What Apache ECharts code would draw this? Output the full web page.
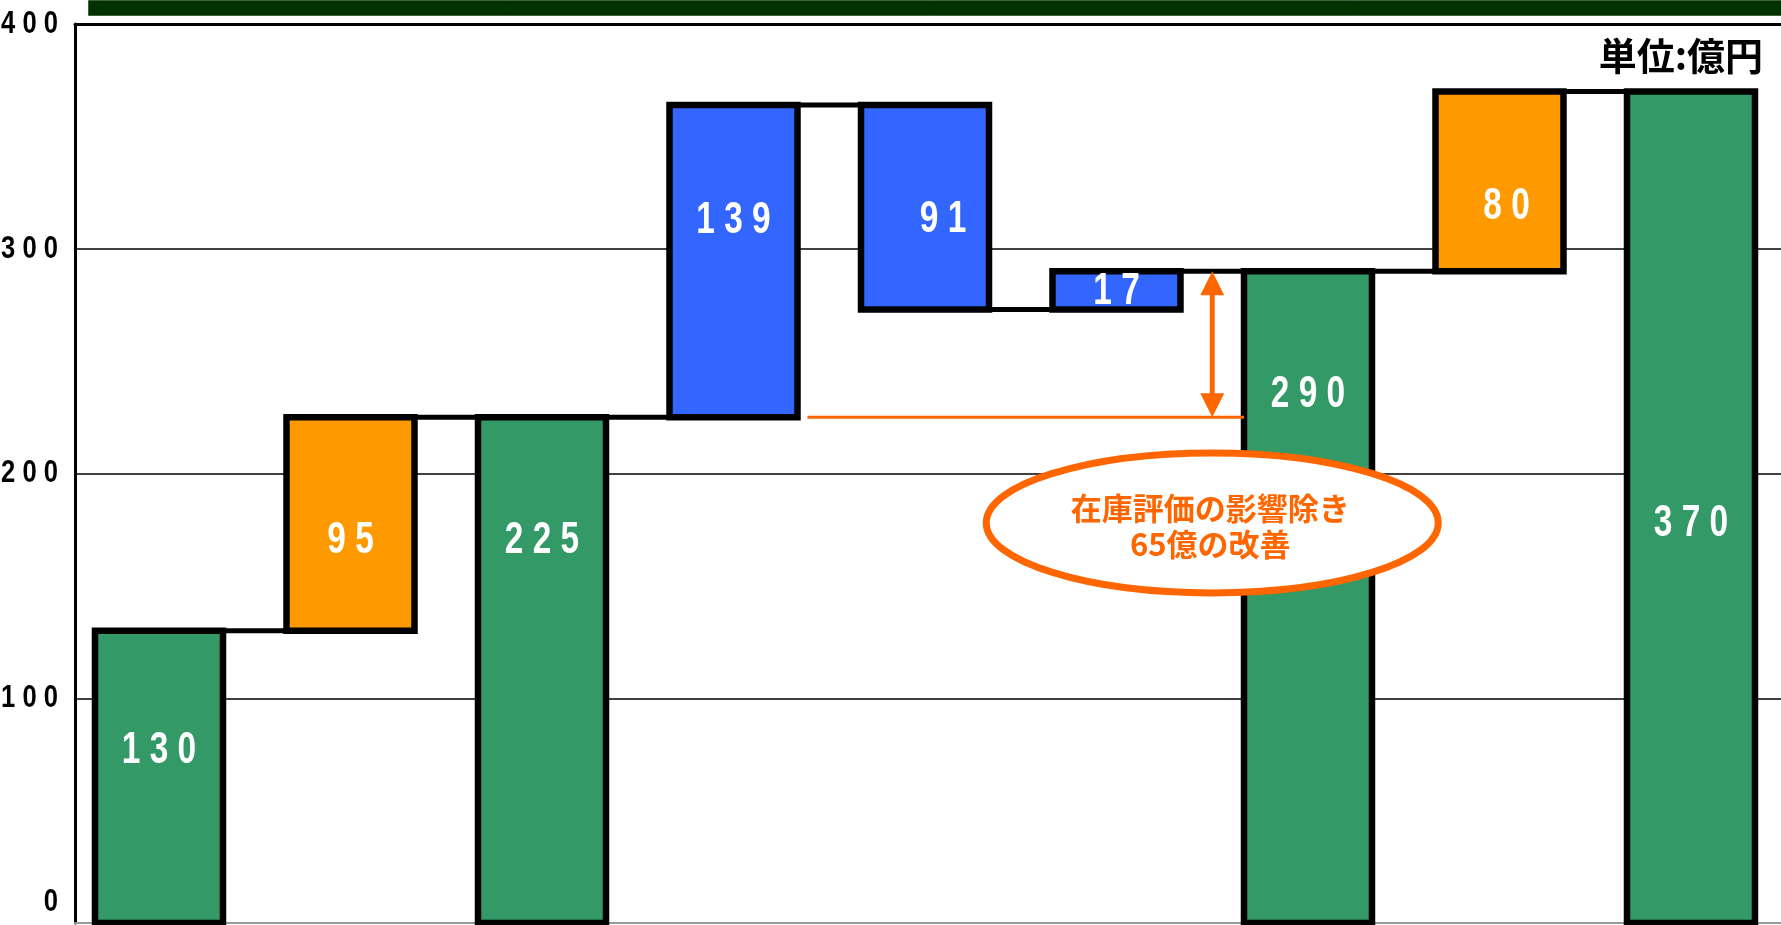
<!DOCTYPE html>
<html>
<head>
<meta charset="utf-8">
<script src="https://cdn.jsdelivr.net/npm/echarts@6/dist/echarts.min.js"></script>
<style>
  html, body { margin: 0; padding: 0; background: #fff; }
  #chart { width: 1781px; height: 925px; }
</style>
</head>
<body>
<div id="chart"></div>
<script>
// waterfall steps (億円): totals reset the level, others add to it
var categories = ['1', '2', '3', '4', '5', '6', '7', '8', '9'];
var values = [130, 95, 225, 139, -91, 17, 290, 80, 370];
var kinds = ['total', 'orange', 'total', 'blue', 'blue', 'blue', 'total', 'orange', 'total'];
var yTicks = [0, 100, 200, 300, 400];
var unitText = '単位:億円';
var noteLines = ['在庫評価の影響除き', '65億の改善'];
var noteFrom = 225;
var noteTo = 290;

var colors = { total: '#339966', orange: '#FF9900', blue: '#3366FF' };
var NUM_FONT = '"Liberation Sans", Arial, sans-serif';
var CJK_FONT = '"Noto Sans CJK JP", sans-serif';
var X_MIN = -0.4386, X_MAX = 8.47;
var BAR_W = 128 / 191.5;
// where the value label sits inside each bar (fraction from top) and small x nudges
var labelFrac = [0.41, 0.58, 0.245, 0.37, 0.56, 0.55, 0.19, 0.64, 0.52];
var labelDx = [0, 0, 0, 0, 18, 0, 0, 7, 0];

function spaced(n) {
    return String(n).split('').join(' ');
}

var rows = [];
var level = 0;
values.forEach(function (v, i) {
    var lo, hi;
    if (kinds[i] === 'total') {
        lo = 0; hi = v; level = v;
    } else {
        lo = Math.min(level, level + v);
        hi = Math.max(level, level + v);
        level += v;
    }
    rows.push({ name: categories[i], value: [i, lo, hi, level, Math.abs(v)] });
});

function renderBar(params, api) {
    var i = api.value(0);
    var top = api.coord([i, api.value(2)]);
    var bot = api.coord([i, api.value(1)]);
    var w = api.size([BAR_W, 0])[0];
    var children = [];
    if (i < values.length - 1) {
        var a = api.coord([i, api.value(3)]);
        var b = api.coord([i + 1, api.value(3)]);
        children.push({
            type: 'line',
            shape: { x1: a[0] + w / 2, y1: a[1], x2: b[0] - w / 2, y2: b[1] },
            style: { stroke: '#000', lineWidth: 5 }
        });
    }
    children.push({
        type: 'rect',
        shape: { x: top[0] - w / 2, y: top[1], width: w, height: bot[1] - top[1] },
        style: { fill: colors[kinds[i]], stroke: '#000', lineWidth: 6.5 }
    });
    children.push({
        type: 'text',
        x: top[0] + labelDx[i],
        y: top[1] + (bot[1] - top[1]) * labelFrac[i],
        scaleX: 0.76,
        style: {
            text: spaced(api.value(4)),
            fill: '#fff',
            fontSize: 44,
            fontWeight: 'bold',
            fontFamily: NUM_FONT,
            align: 'center',
            verticalAlign: 'middle'
        }
    });
    return { type: 'group', children: children };
}

// y tick labels: narrow, letter-spaced digits like the original slide
function renderTick(params, api) {
    var v = api.value(1);
    var p = api.coord([X_MIN, v]);
    return {
        type: 'text',
        x: p[0] - 17,
        y: p[1] - (v === yTicks[0] ? 21 : 0),
        scaleX: 0.8,
        style: {
            text: spaced(v),
            fill: '#000',
            fontSize: 32,
            fontWeight: 'bold',
            fontFamily: NUM_FONT,
            align: 'right',
            verticalAlign: 'middle'
        }
    };
}

function renderNote(params, api) {
    var ax = api.value(0);
    var pTop = api.coord([ax, noteTo]);
    var pBot = api.coord([ax, noteFrom]);
    var half = api.size([BAR_W, 0])[0] / 2;
    var x0 = api.coord([3, noteFrom])[0] + half + 10;
    var x1 = api.coord([6, noteFrom])[0] - half;
    var c = api.coord([ax, api.value(1)]);
    var x = pTop[0];
    var orange = '#FF6600';
    return {
        type: 'group',
        children: [
            { type: 'line', shape: { x1: x0, y1: pBot[1], x2: x1, y2: pBot[1] }, style: { stroke: orange, lineWidth: 3 } },
            { type: 'line', shape: { x1: x, y1: pTop[1] + 18, x2: x, y2: pBot[1] - 18 }, style: { stroke: orange, lineWidth: 5 } },
            { type: 'polygon', shape: { points: [[x, pTop[1]], [x - 12, pTop[1] + 24], [x + 12, pTop[1] + 24]] }, style: { fill: orange } },
            { type: 'polygon', shape: { points: [[x, pBot[1]], [x - 12, pBot[1] - 24], [x + 12, pBot[1] - 24]] }, style: { fill: orange } },
            { type: 'ellipse', shape: { cx: c[0], cy: c[1], rx: 226, ry: 70 }, style: { fill: '#fff', stroke: orange, lineWidth: 7 } },
            {
                type: 'text', x: c[0] - 2, y: c[1] - 15,
                style: { text: noteLines[0], fill: orange, fontSize: 31, fontWeight: 'bold', fontFamily: CJK_FONT, align: 'center', verticalAlign: 'middle' }
            },
            {
                type: 'text', x: c[0] - 2, y: c[1] + 21,
                style: { text: noteLines[1], fill: orange, fontSize: 31, fontWeight: 'bold', fontFamily: CJK_FONT, align: 'center', verticalAlign: 'middle' }
            }
        ]
    };
}

var chart = echarts.init(document.getElementById('chart'));
chart.setOption({
    animation: false,
    backgroundColor: '#fff',
    grid: { left: 75, right: 0, top: 24, bottom: 2, outerBoundsMode: 'none' },
    xAxis: [{
        type: 'value',
        min: X_MIN,
        max: X_MAX,
        axisLine: { onZero: false, lineStyle: { color: '#999', width: 2 } },
        axisTick: { show: false },
        axisLabel: { show: false },
        splitLine: { show: false }
    }, {
        type: 'value',
        position: 'top',
        min: X_MIN,
        max: X_MAX,
        axisLine: { onZero: false, lineStyle: { color: '#000', width: 3 } },
        axisTick: { show: false },
        axisLabel: { show: false },
        splitLine: { show: false }
    }],
    yAxis: {
        type: 'value',
        min: yTicks[0],
        max: yTicks[yTicks.length - 1],
        interval: yTicks[1] - yTicks[0],
        axisLine: { show: true, onZero: false, lineStyle: { color: '#000', width: 3 } },
        axisTick: { show: false },
        axisLabel: { show: false },
        splitLine: { lineStyle: { color: '#000', width: 1.5 } }
    },
    graphic: [
        { type: 'rect', left: 88, top: 0, shape: { width: 1700, height: 15 }, style: { fill: '#003300', stroke: '#3f633f', lineWidth: 1 } },
        { type: 'text', right: 18, top: 37, style: { text: unitText, fill: '#000', font: 'bold 38px ' + CJK_FONT } }
    ],
    series: [{
        type: 'custom',
        renderItem: renderBar,
        encode: { x: 0, y: [1, 2] },
        data: rows,
        clip: false,
        z: 3
    }, {
        type: 'custom',
        renderItem: renderTick,
        encode: { x: 0, y: 1 },
        data: yTicks.map(function (t) { return [X_MIN, t]; }),
        clip: false,
        silent: true,
        z: 3
    }, {
        type: 'custom',
        renderItem: renderNote,
        encode: { x: 0, y: 1 },
        data: [[5.5, 178]],
        z: 5
    }]
});
</script>
</body>
</html>
